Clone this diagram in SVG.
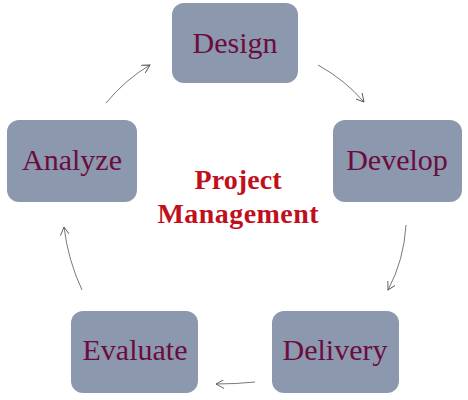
<svg xmlns="http://www.w3.org/2000/svg" width="468" height="400" viewBox="0 0 468 400">
<style>
.box{fill:#8c98ad;}
.lbl{font-family:"Liberation Serif","DejaVu Serif",serif;font-size:30px;fill:#6a0d3e;text-anchor:middle;}
.title{font-family:"Liberation Serif","DejaVu Serif",serif;font-size:28px;font-weight:bold;fill:#c0101c;text-anchor:middle;}
.con{fill:none;stroke:#555;stroke-width:0.8;marker-end:url(#ah);}
</style>
<defs>
<marker id="ah" viewBox="0 0 10 10" refX="9" refY="5" markerWidth="9" markerHeight="9" markerUnits="userSpaceOnUse" orient="auto">
<path d="M0,0 L9,5 L0,10" fill="none" stroke="#555" stroke-width="1"/>
</marker>
</defs>
<rect width="468" height="400" fill="#ffffff"/>
<g id="connectors">
<path class="con" d="M318,65 Q345,80 364,102"/>
<path class="con" d="M406,225 Q404,260 388,290"/>
<path class="con" d="M255,382 Q236,384 216,384"/>
<path class="con" d="M82,290 Q68,260 64,227"/>
<path class="con" d="M106,103 Q126,79 150,65"/>
</g>
<g id="design"><rect class="box" x="172" y="3" width="126" height="80" rx="12"/><text class="lbl" x="235" y="53">Design</text></g>
<g id="develop"><rect class="box" x="333" y="120" width="129" height="82" rx="12"/><text class="lbl" x="397" y="170">Develop</text></g>
<g id="delivery"><rect class="box" x="272" y="311" width="127" height="82" rx="12"/><text class="lbl" x="335" y="360">Delivery</text></g>
<g id="evaluate"><rect class="box" x="71" y="311" width="127" height="82" rx="12"/><text class="lbl" x="135" y="360">Evaluate</text></g>
<g id="analyze"><rect class="box" x="7" y="120" width="130" height="82" rx="12"/><text class="lbl" x="72" y="170">Analyze</text></g>
<g id="center">
<text class="title" x="238" y="189" textLength="87" lengthAdjust="spacing">Project</text>
<text class="title" x="238" y="223" textLength="161" lengthAdjust="spacing">Management</text>
</g>
</svg>
